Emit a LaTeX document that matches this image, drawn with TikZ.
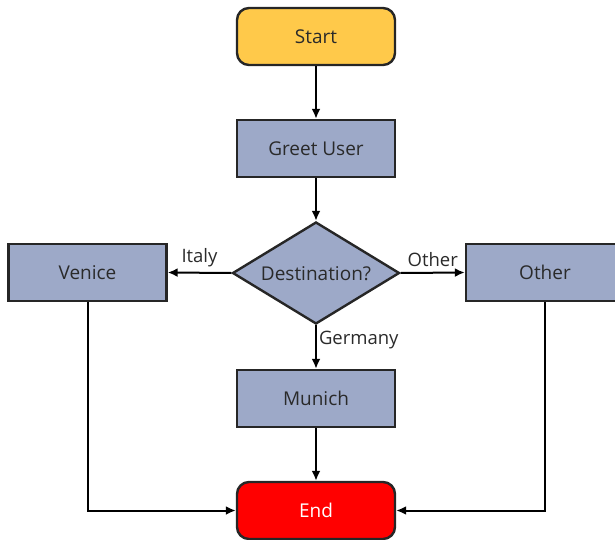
\documentclass[tikz,border=0pt]{standalone}
\usepackage{fontspec}
\setmainfont{Open Sans}
\usepackage{tikz}
\usetikzlibrary{arrows.meta,positioning,shapes.geometric}
\definecolor{FCyellow}{HTML}{FFC94A}
\definecolor{FCblue}{HTML}{9DA9C8}
\definecolor{FCred}{HTML}{FF0000}
\definecolor{FCline}{HTML}{262626}
\definecolor{FCtext}{HTML}{2A2A2A}
% zero-sized text box, so the diamond keeps its minimum size
\newcommand{\fcflat}[1]{\smash{\makebox[0pt]{#1}}}
\tikzset{
  fc/base/.style={draw=FCline, line width=2.4pt, minimum width=158pt, minimum height=57pt, align=center, text=FCtext, font=\fontsize{19}{22}\selectfont},
  fc/terminal/.style={fc/base, rounded corners=12pt},
  fc/process/.style={fc/base, fill=FCblue},
  fc/decision/.style={fc/base, diamond, fill=FCblue, inner sep=0pt, minimum width=167pt, minimum height=102pt},
  fc/label/.style={font=\fontsize{18.5}{21}\selectfont, text=FCtext, inner sep=2pt},
  arr/.style={-{Latex[length=10pt,width=9pt]}, line width=2pt, draw=black}
}

\begin{document}
\begin{tikzpicture}[x=1pt,y=1pt]
  \useasboundingbox (0,0) rectangle (615,539);

  \node[fc/terminal, fill=FCyellow] (start) at (316,502.5) {Start};
  \node[fc/process] (greet) at (316,390.5) {Greet User};
  \node[fc/decision] (dest) at (316,266) {\raisebox{-0.8em}{\fcflat{Destination?}}};
  \node[fc/process] (venice) at (87.5,266.5) {Venice};
  \node[fc/process] (other) at (545,266.5) {Other};
  \node[fc/process] (munich) at (316,140.5) {Munich};
  \node[fc/terminal, fill=FCred, text=white] (end) at (316,28.5) {End};

  \draw[arr] (start) -- (greet);
  \draw[arr] (greet) -- (dest);
  \draw[arr] (dest.west) -- node[fc/label, above=3pt] {Italy} (venice.east);
  \draw[arr] (dest.east) -- node[fc/label, above=3pt] {Other} (other.west);
  \draw[arr] (dest.south) -- node[fc/label, right, pos=0.35] {Germany} (munich.north);
  \draw[arr] (munich) -- (end);
  \draw[arr] (venice.south) |- (end.west);
  \draw[arr] (other.south) |- (end.east);
\end{tikzpicture}
\end{document}
